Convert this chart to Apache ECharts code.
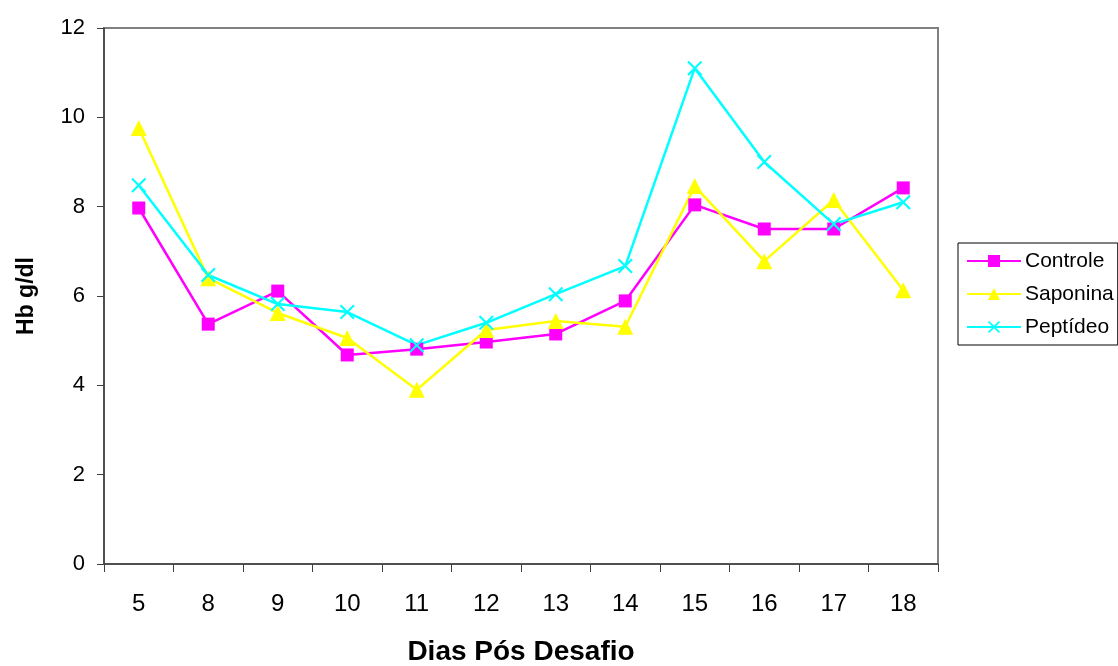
<!DOCTYPE html>
<html>
<head>
<meta charset="utf-8">
<script src="https://cdn.jsdelivr.net/npm/echarts@6/dist/echarts.min.js"></script>
<style>
  html, body { margin: 0; padding: 0; background: #fff; }
  #chart { width: 1118px; height: 666px; }
</style>
</head>
<body>
<div id="chart"></div>
<script>
// Days after challenge (categories)
const dias = ['5', '8', '9', '10', '11', '12', '13', '14', '15', '16', '17', '18'];

// Hemoglobin (g/dl) per group
const controle = [7.97, 5.37, 6.11, 4.68, 4.81, 4.97, 5.15, 5.89, 8.04, 7.50, 7.50, 8.42];
const saponina = [9.76, 6.40, 5.62, 5.06, 3.90, 5.24, 5.44, 5.31, 8.46, 6.78, 8.15, 6.13];
const peptideo = [8.48, 6.47, 5.82, 5.64, 4.90, 5.40, 6.04, 6.67, 11.10, 9.00, 7.61, 8.10];

const FONT = '"Liberation Sans", Arial, sans-serif';
const crossPath = 'path://M0,1L1,0L5,4L9,0L10,1L6,5L10,9L9,10L5,6L1,10L0,9L4,5Z';

const chart = echarts.init(document.getElementById('chart'));

function lineSeries(name, data, color, symbol, size) {
  return {
    name: name,
    type: 'line',
    data: data,
    symbol: symbol,
    symbolSize: size,
    showAllSymbol: true,
    lineStyle: { color: color, width: 2.5 },
    itemStyle: { color: color },
    emphasis: { disabled: true },
    animation: false
  };
}

chart.setOption({
  backgroundColor: '#ffffff',
  textStyle: { fontFamily: FONT },
  grid: {
    left: 104, right: 180, top: 28, bottom: 102,
    outerBoundsMode: 'none',
    containLabel: false,
    show: true, borderColor: '#808080', borderWidth: 2, backgroundColor: '#fff'
  },
  legend: {
    orient: 'vertical',
    left: 958, top: 243,
    width: 158,
    padding: [7, 4, 7, 8],
    itemGap: 11,
    itemWidth: 54, itemHeight: 15,
    borderColor: '#000', borderWidth: 1,
    textStyle: { fontFamily: FONT, fontSize: 21, lineHeight: 22, color: '#000', padding: [0, 0, 0, -1] },
    data: ['Controle', 'Saponina', 'Peptídeo']
  },
  xAxis: {
    type: 'category',
    data: dias,
    boundaryGap: true,
    name: 'Dias Pós Desafio',
    nameLocation: 'middle',
    nameGap: 74,
    nameTextStyle: { fontFamily: FONT, fontSize: 28, fontWeight: 'bold', color: '#000' },
    axisLine: { lineStyle: { color: '#404040', width: 1.5 } },
    axisTick: { show: true, inside: false, length: 8, lineStyle: { color: '#404040' } },
    axisLabel: { fontFamily: FONT, fontSize: 24, color: '#000', margin: 28 },
    splitLine: { show: false }
  },
  yAxis: {
    type: 'value',
    min: 0, max: 12, interval: 2,
    name: 'Hb g/dl',
    nameLocation: 'middle',
    nameGap: 66,
    nameRotate: 90,
    nameTextStyle: { fontFamily: FONT, fontSize: 23, fontWeight: 'bold', color: '#000' },
    axisLine: { show: true, lineStyle: { color: '#404040', width: 1.5 } },
    axisTick: { show: true, inside: false, length: 7, lineStyle: { color: '#404040' } },
    axisLabel: { fontFamily: FONT, fontSize: 22, color: '#000', margin: 19 },
    splitLine: { show: false }
  },
  series: [
    lineSeries('Controle', controle, '#ff00ff', 'rect', 13),
    lineSeries('Saponina', saponina, '#ffff00', 'triangle', 16),
    lineSeries('Peptídeo', peptideo, '#00ffff', crossPath, 15)
  ]
});
</script>
</body>
</html>
